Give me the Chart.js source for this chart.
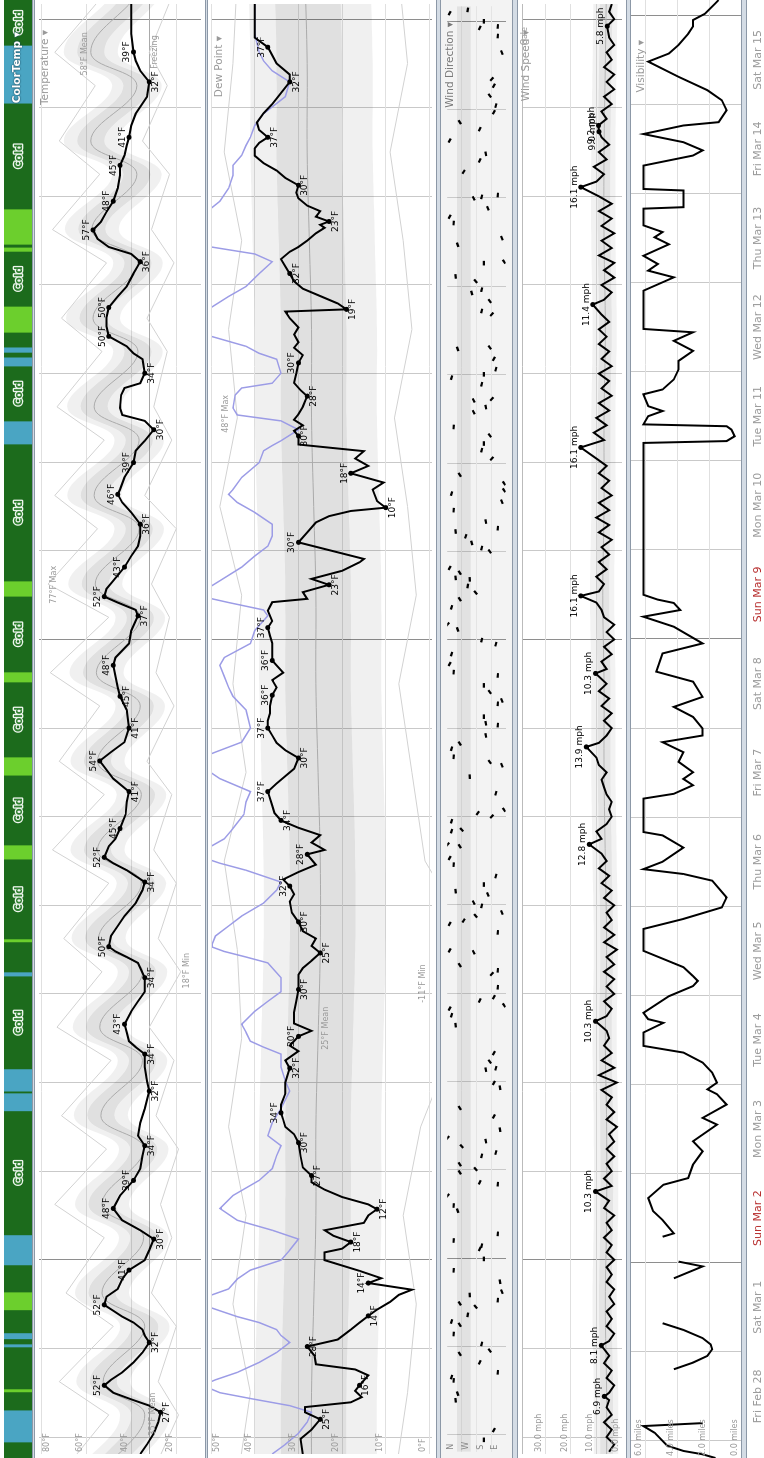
<!DOCTYPE html>
<html>
<head>
<meta charset="utf-8">
<script src="https://cdn.jsdelivr.net/npm/chart.js@4.4.1/dist/chart.umd.min.js"></script>
<style>
  html, body { margin: 0; padding: 0; background: #fff; overflow: hidden; width: 764px; height: 1458px; }
  /* the chart is laid out landscape (time left to right) and turned a quarter to the left */
  #page { position: absolute; left: 0; top: 0; width: 1458px; height: 764px; overflow: hidden;
          transform-origin: 0 0; transform: translate(0, 1458px) rotate(-90deg);
          font-family: "DejaVu Sans", sans-serif; background: #fff; }
  #page canvas { position: absolute; left: 0; }
  .sep { position: absolute; left: 0; width: 1458px; box-sizing: border-box;
         background: #d4dce5; border-top: 1px solid #8c98a7; border-bottom: 1px solid #8c98a7; }
  .title { position: absolute; font-size: 10.5px; color: #999; white-space: nowrap; }
</style>
</head>
<body>
<div id="page">
  <canvas id="cStrip" width="1458" height="28" style="top:4px"></canvas>
  <div class="sep" style="top:32px;height:3px"></div>
  <canvas id="cTemp" width="1458" height="170" style="top:35px"></canvas>
  <div class="sep" style="top:205px;height:3px"></div>
  <canvas id="cDew" width="1458" height="228" style="top:208px"></canvas>
  <div class="sep" style="top:436px;height:5px"></div>
  <canvas id="cDir" width="1458" height="71" style="top:441px;background:#f3f3f3"></canvas>
  <div class="sep" style="top:512px;height:6px"></div>
  <canvas id="cWind" width="1458" height="108" style="top:518px"></canvas>
  <div class="sep" style="top:626px;height:5px"></div>
  <canvas id="cVis" width="1458" height="110" style="top:631px"></canvas>
  <div class="sep" style="top:741px;height:6px"></div>
  <canvas id="cDate" width="1458" height="60" style="top:715px"></canvas>

  <div class="title" style="top:10px;right:32px;color:#fff;font-weight:bold;text-shadow:0 0 2px #17465a,0 0 1px #17465a">ColorTemp ▾</div>
  <div class="title" style="top:38px;right:30px">Temperature ▾</div>
  <div class="title" style="top:212px;right:36px">Dew Point ▾</div>
  <div class="title" style="top:443px;right:22px;color:#777;text-shadow:0 0 2px #fff">Wind Direction ▾</div>
  <div class="title" style="top:519px;right:30px">Wind Speed ▾</div>
  <div class="title" style="top:634px;right:40px">Visibility ▾</div>
</div>

<script>
// hours counted from Fri Feb 28 2014, 00:00
const X_MIN = -4.6;
const X_MAX = 388.1;

const dayLabels = ['Fri Feb 28', 'Sat Mar 1', 'Sun Mar 2', 'Mon Mar 3', 'Tue Mar 4', 'Wed Mar 5', 'Thu Mar 6', 'Fri Mar 7',
    'Sat Mar 8', 'Sun Mar 9', 'Mon Mar 10', 'Tue Mar 11', 'Wed Mar 12', 'Thu Mar 13', 'Fri Mar 14', 'Sat Mar 15'];
const noonTicks = [12, 36, 60, 84, 108, 132, 156, 180, 204, 228, 252, 276, 300, 324, 348, 372];
const dayLines = [0, 24, 48, 72, 96, 120, 144, 168, 192, 216, 240, 264, 288, 312, 336, 360, 384];
const weekLines = [48, 216, 384];

// colour temperature strip: [from, to, class, label]
const colorTempSegments = [
    [-4.6, -0.3, 'cold'], [-0.3, 8.3, 'vcold'], [8.3, 13.2, 'cold'], [13.2, 14.0, 'cool'], [14.0, 25.3, 'cold'],
    [25.3, 26.1, 'vcold'], [26.1, 27.5, 'cold'], [27.5, 29.1, 'vcold'], [29.1, 35.3, 'cold'], [35.3, 40.1, 'cool'],
    [40.1, 47.4, 'cold'], [47.4, 55.5, 'vcold'], [55.5, 88.9, 'cold', 'Cold'], [88.9, 93.7, 'vcold'], [93.7, 94.2, 'cold'],
    [94.2, 100.2, 'vcold'], [100.2, 125.2, 'cold', 'Cold'], [125.2, 126.3, 'vcold'], [126.3, 134.4, 'cold'], [134.4, 135.2, 'cool'],
    [135.2, 156.7, 'cold', 'Cold'], [156.7, 160.5, 'cool'], [160.5, 179.3, 'cold', 'Cold'], [179.3, 184.2, 'cool'],
    [184.2, 204.4, 'cold', 'Cold'], [204.4, 207.1, 'cool'], [207.1, 227.5, 'cold', 'Cold'], [227.5, 231.6, 'cool'],
    [231.6, 268.5, 'cold', 'Cold'], [268.5, 274.7, 'vcold'], [274.7, 289.5, 'cold', 'Cold'], [289.5, 291.9, 'vcold'],
    [291.9, 293.2, 'cold'], [293.2, 294.6, 'vcold'], [294.6, 298.6, 'cold'], [298.6, 305.6, 'cool'],
    [305.6, 320.4, 'cold', 'Cold'], [320.4, 321.5, 'cool'], [321.5, 322.3, 'cold'], [322.3, 331.8, 'cool'],
    [331.8, 360.3, 'cold', 'Cold'], [360.3, 375.9, 'vcold'], [375.9, 388.1, 'cold', 'Cold']
];
const colorTempColors = { cold: '#1c6b1c', cool: '#6ccf2d', vcold: '#4aa5c3' };

// temperature (°F)
const temperature = [
    [-4.6,36],[-2,33],[1,30],[4,28],[6.7,27],[8.5,32],[10.2,40],[12,48],[14,52],[15.5,49],[17.5,44],[20.2,39],[22.9,35],
    [25.6,32],[27.5,34],[29.1,35],[31,39],[32.6,44],[34.2,48],[35.8,52],[38,51],[40.1,46],[42.8,44],[45.2,41],[47.9,34],
    [50.6,32],[53.6,30],[56,36],[58.7,44],[61.9,48],[65.4,45],[69.5,39],[72.7,36],[76.2,35],[78.9,34],[81.6,37],[85.1,36],
    [88.9,34],[93.7,32],[96.4,33],[100.2,34],[103.7,34],[105.6,38],[107.2,41],[109.6,42],[111.8,43],[115.3,40],[118,37],
    [120.6,34],[124.4,34],[128.4,37],[130,42],[131.5,47],[132.8,50],[135.7,49],[138.4,46],[141.1,43],[144.6,38],[148.1,35],
    [150.3,34],[153.5,42],[155.4,48],[157,52],[160,50],[162,47],[164.8,45],[168.6,42.5],[172,42],[174.8,41],[178.3,48],
    [182.3,53],[183.1,54],[185.5,49],[188.2,43],[192,41],[196.9,42],[200.6,45],[203,46],[206,47],[209,48],[211.1,47],
    [214.9,41],[218.4,40],[222.4,37],[224,38],[226,46],[227.6,52],[229.7,51],[231.9,48],[235.6,43],[238.6,40],[241.3,37],
    [244,36],[247.2,36],[250.4,40],[253.1,44],[255.3,46],[256.6,45],[259.9,43],[263.9,39],[267.1,38],[268.5,36],[269.8,34],
    [272.8,30],[275.2,34],[276.8,44],[278.7,45],[282.2,44.5],[284.1,43],[285.4,36],[288.1,34],[291.9,35],[293.5,39],
    [295.4,42],[298.1,50],[300.8,51],[303.2,51],[305.9,50],[308.9,46],[311.6,42],[315.1,39],[318.3,36],[320.4,40],
    [322.3,50],[324.5,55],[326.9,57],[329.1,53.5],[331.8,51],[334.7,48],[338.2,46],[341.7,45],[344.4,45],[347.1,43],
    [349.8,42],[352,41],[355.2,40],[358.4,38],[363,33],[367,32],[370,36],[372.7,38],[375.1,39],[380,40],[388.1,40]
];
// labelled extremes: [hour, °F, a = label above / b = below]
const tempMarks = [
    [6.7,27,'b'],[14,52,'a'],[25.6,32,'b'],[35.8,52,'a'],[45.2,41,'a'],[53.6,30,'b'],[61.9,48,'a'],[69.5,39,'a'],
    [78.9,34,'b'],[93.7,32,'b'],[103.7,34,'b'],[111.8,43,'a'],[124.4,34,'b'],[132.8,50,'a'],[150.3,34,'b'],[157,52,'a'],
    [164.8,45,'a'],[174.8,41,'b'],[183.1,54,'a'],[192,41,'b'],[200.6,45,'b'],[209,48,'a'],[222.4,37,'b'],[227.6,52,'a'],
    [235.6,43,'a'],[247.2,36,'b'],[255.3,46,'a'],[263.9,39,'a'],[272.8,30,'b'],[288.1,34,'b'],[298.1,50,'a'],[305.9,50,'a'],
    [318.3,36,'b'],[326.9,57,'a'],[334.7,48,'a'],[344.4,45,'a'],[352,41,'a'],[367,32,'b'],[375.1,39,'a']
];

// normal bands for temperature, at 15:00 and 06:00 of each day
const normTimes = [-9,6,15,30,39,54,63,78,87,102,111,126,135,150,159,174,183,198,207,222,231,246,255,270,279,294,303,318,327,342,351,366,375,390];
const tempMean = [52,34,52.5,34,53,34.5,53,34.5,53.5,35,54,35,54.5,35.5,55,35.5,55,36,55.5,36,56,36.5,56.5,36.5,56.5,37,57,37,57.5,37.5,58,37.5,58,38];
const tempP25 = [46,28,46.5,28,47,28.5,47,28.5,47.5,29,48,29,48.5,29.5,49,29.5,49,30,49.5,30,50,30.5,50.5,30.5,50.5,31,51,31,51.5,31.5,52,31.5,52,32];
const tempP75 = [58,40,58.5,40,59,40.5,59,40.5,59.5,41,60,41,60.5,41.5,61,41.5,61,42,61.5,42,62,42.5,62.5,42.5,62.5,43,63,43,63.5,43.5,64,43.5,64,44];
const tempP10 = [40,23,40.5,23,41,23.5,41,23.5,41.5,24,42,24,42.5,24.5,43,24.5,43,25,43.5,25,44,25.5,44.5,25.5,44.5,26,45,26,45.5,26.5,46,26.5,46,27];
const tempP90 = [64,45,64.5,45,65,45.5,65,45.5,65.5,46,66,46,66.5,46.5,67,46.5,67,47,67.5,47,68,47.5,68.5,47.5,68.5,48,69,48,69.5,48.5,70,48.5,70,49];
const tempRecordHigh = [70,50,72,48,69,52,74,51,71,49,73,53,70,50,75,52,72,54,76,50,77,55,74,52,73,53,71,51,75,54,72,56,74,53];
const tempRecordLow = [30,19,28,20,31,22,27,19,29,21,32,18,28,20,30,22,33,21,29,23,31,20,34,22,30,24,33,21,31,23,35,24,32,22];

// dew point (°F)
const dewPoint = [
    [-4.6,29],[-0.5,29.5],[2,27],[4.8,25],[6.7,28.5],[8.1,28.5],[9.4,18],[10.8,15.5],[12.5,17],[14,16],[16.7,14],[18.3,17],
    [19.7,26],[22,26.3],[24.5,28],[26.4,21],[29.1,18],[31,16],[32.8,14],[34.5,12],[36.6,9],[38.5,7],[39.9,4],[41.7,14],
    [43,11],[45,16],[47.9,24],[50,24],[51,20],[52.8,18],[54.5,22],[56,24],[58,15],[60,14],[61.7,12],[63,14],[65,20],
    [67,24],[69,27],[70.8,27],[73,29],[76,29.5],[79.7,30],[82,31],[84,33],[86,33.5],[87.8,34],[90,34],[93,33],[96,33],
    [99.9,32],[102,33],[104.5,30],[106,32],[108.5,30],[110,27],[112,31],[115,31],[118,30.5],[121.2,30],[123,30],[125.2,30],
    [127,29],[129,27],[131.1,25],[133,27],[135,26],[137,29],[139.5,30],[142,31.5],[145,32],[147,31],[149.2,32],[151,33.5],
    [153,30],[155,26],[157.8,28],[159,24],[161,27],[163,25],[165,30],[167,34],[169,35.5],[171,36],[174.8,37],[177,35],
    [179,33],[181,31],[183.9,30],[186,33],[188,35],[190,36],[192,37],[194,37],[196,36.5],[198,36.5],[200.9,36],[203,35],
    [205,36],[207,33.5],[209,35],[210.3,36],[212,36],[215,36],[217,36.5],[219.2,37],[221,36],[223.8,37],[226.1,36],
    [227,28],[228.8,29],[230.8,23],[232.4,27],[234.6,20],[236.9,16],[237.8,15],[242.3,30],[245,28],[247.7,26],[249.4,23],
    [250.8,18],[251.7,10],[253.5,12],[256.6,13],[258.5,10.5],[261,18],[263,14],[265,17],[267,15],[268.8,30],[271.1,30],
    [272.5,31],[274,29],[275.5,31],[277,30],[279,29],[281.9,28],[283.5,29.5],[285.5,31],[288,30.5],[290.9,30],[293,29],
    [295,31],[296.5,30],[298.6,31],[300.5,30],[303,32],[304.8,33],[305.4,19],[307,21],[309,25],[311,29],[313,31],
    [315.1,32],[317,33],[319,34],[321,32],[322.3,30],[324,28],[326,26],[327.5,24],[328.3,25],[329.2,23],[330.5,26],
    [332,25],[333.5,28],[335.5,30],[337,30.5],[339,30],[341,33],[343,35],[345,38],[347,40],[349,40],[350.5,39],[352,37],
    [354,39],[356,39.5],[358.5,38],[361,36],[364,34],[367,32],[369,32],[372,35],[376.4,37],[379,40],[383,40],[388.1,40]
];
const dewMarks = [
    [4.8,25,'b'],[14,16,'b'],[24.5,28,'b'],[32.8,14,'b'],[41.7,14,'a'],[52.8,18,'b'],[61.7,12,'b'],[70.8,27,'b'],
    [79.7,30,'b'],[87.8,34,'a'],[99.9,32,'b'],[108.5,30,'a'],[121.2,30,'b'],[131.1,25,'b'],[139.5,30,'b'],[149.2,32,'a'],
    [157.8,28,'a'],[167,34,'b'],[174.8,37,'a'],[183.9,30,'b'],[192,37,'a'],[200.9,36,'a'],[210.3,36,'a'],[219.2,37,'a'],
    [230.8,23,'b'],[242.3,30,'a'],[251.7,10,'b'],[261,18,'a'],[271.1,30,'b'],[281.9,28,'b'],[290.9,30,'a'],[305.4,19,'b'],
    [315.1,32,'b'],[329.2,23,'b'],[339,30,'b'],[352,37,'b'],[367,32,'b'],[376.4,37,'a']
];

// daily normals (noon of each day) for dew point and wind
const dayTimes = [-12,12,36,60,84,108,132,156,180,204,228,252,276,300,324,348,372,396];
const dewMean = [27,27,26.5,26,26,25.5,25,25,25.5,26,26,26.5,27,27,27.5,28,28,28.5];
const dewP25 = [19,19,18.5,18,18,17.5,17,17,17.5,18,18,18.5,19,19,19.5,20,20,20.5];
const dewP75 = [34,34,33.5,33,33,32.5,32,32,32.5,33,33,33.5,34,34,34.5,35,35,35.5];
const dewP10 = [12,12,11.5,11,11,10.5,10,10,10.5,11,11,11.5,12,12,12.5,13,13,13.5];
const dewP90 = [40,40,39.5,39,39,38.5,38,38,38.5,39,39,39.5,40,40,40.5,41,41,41.5];
const dewRecordHigh = [44,41,45,42,46,43,44,47,42,45,43,48,44,46,43,47,45,44];
const dewRecordLow = [8,5,3,6,2,-6,-11,1,4,7,3,5,8,4,6,9,5,7];

// wind direction (degrees) of each observation
const windDir = [
    [-1.35,135],[1.3,73],[9.4,308],[11.2,296],[14.8,320],[15.7,333],[17.0,49],[19.7,160],[22.0,283],[22.9,98],[24.7,148],[27.4,320],
    [29.9,283],[30.8,333],[32.6,234],[34.8,185],[35.7,283],[36.6,49],[38.0,222],[38.9,24],[41.6,36],[44.7,320],[47.8,135],
    [50.5,160],[51.4,148],[52.8,320],[54.6,49],[60.9,296],[62.3,320],[65.0,357],[68.1,49],[68.6,160],[71.3,283],[72.2,185],
    [73.5,283],[75.8,148],[76.7,61],[78.4,271],[79.8,123],[80.7,357],[82.9,36],[86.5,73],[88.8,283],[94.3,36],[95.6,73],
    [99.2,123],[99.6,61],[101.4,98],[103.7,73],[111.3,308],[114.0,333],[115.8,345],[116.7,11],[118.0,160],[118.9,73],
    [121.6,49],[125.2,86],[126.2,49],[127.6,283],[131.1,197],[131.6,345],[136.5,49],[138.8,345],[139.7,259],[141.0,185],
    [141.9,24],[143.7,148],[144.6,197],[146.8,110],[147.7,308],[149.5,135],[151.8,61],[154.9,320],[156.7,345],[159.9,283],
    [160.4,357],[164.0,333],[164.4,271],[166.7,333],[168.0,86],[168.9,172],[169.8,11],[174.3,61],[178.8,222],[181.9,24],
    [182.8,98],[184.2,320],[186.4,333],[187.8,283],[190.0,123],[192.8,49],[193.3,123],[195.1,135],[198.6,49],[199.5,24],
    [201.8,98],[203.6,135],[206.3,49],[207.2,320],[209.4,345],[212.1,333],[214.8,61],[215.9,148],[218.8,296],[220.2,357],
    [224.8,333],[227.0,283],[228.8,185],[230.6,234],[232.4,222],[232.8,308],[234.2,283],[235.5,345],[240.0,98],[240.9,148],
    [242.3,209],[244.1,246],[245.4,308],[246.3,49],[248.1,123],[251.2,320],[253.5,24],[255.7,333],[256.6,11],[258.5,11],
    [260.8,283],[265.2,86],[267.5,148],[269.3,135],[271.5,98],[273.8,320],[277.8,197],[279.2,123],[281.0,197],[281.4,86],
    [285.4,148],[287.2,333],[288.1,135],[289.5,61],[292.3,73],[295.0,296],[295.4,98],[304.4,86],[305.3,148],[308.0,98],
    [310.2,209],[311.1,148],[313.4,185],[314.7,308],[318.3,135],[318.7,11],[323.3,296],[325.1,24],[329.2,320],[330.9,345],
    [333.2,110],[335.9,197],[336.3,148],[336.8,49],[343.1,259],[346.2,160],[348.0,123],[351.6,345],[354.7,160],[356.6,283],
    [359.3,73],[361.1,61],[363.8,98],[366.5,73],[368.3,86],[375.5,24],[380.0,49],[382.2,160],[382.6,49],[384.0,135],
    [386.2,345],[387.1,234]
];
const windDirShadeLow = [215,215,215,215,215,215,215,215,215,215,215,215,215,215,215,215,215,215];
const windDirShadeHigh = [300,300,300,300,300,300,300,300,300,300,300,300,300,300,300,300,300,300];

// wind speed (mph)
const windSpeed = [
    [-4,5],[-2,3],[0,6],[2,4],[4,7],[6,4],[8,6],[10,5],[11,6.9],[12,5],[14,3],[16,6],[18,4],[20,7],[22,5],[24.8,8.1],
    [26,5],[28,3],[30,6],[32,4],[34,6],[36,3],[38,5],[40,3],[42,6],[44,4],[46,6],[48,3],[50,6],[52,4],[54,7],[56,4],
    [58,6],[60,3],[62,7],[64,5],[66.5,10.3],[68,4],[70,7],[72,4],[74,6],[76,3],[78,6],[80,3],[82,5],[84,2],[86,6],[88,3],
    [90,6],[92,4],[94,8],[96,2],[98,9],[100,3],[102,8],[104,4],[106,7],[108,5],[110,6],[112.6,10.3],[114,6],[116,4],
    [118,7],[120,3],[122,6],[124,3],[126,7],[128,3],[130,6],[132,2],[134,7],[136,3],[138,7],[140,4],[142,6],[144,3],
    [146,7],[148,4],[150,8],[152,5],[154,9],[156,6],[158,8],[160.5,12.8],[162,8],[164,10],[166,6],[168,4],[170,5],[172,4],
    [174,6],[176,7],[178,8],[180,6],[182,9],[184,10],[186.9,13.9],[188,9],[190,6],[192,4],[194,7],[196,4],[198,8],[200,5],
    [202,9],[204,6],[206.8,10.3],[208,6],[210,8],[212,4],[214,7],[216,3],[218,6],[220,3],[222,7],[224,8],[226,10],
    [227.8,16.1],[229,9],[231,7],[233,10],[235,6],[237,9],[239,5],[241,8],[243,4],[245,9],[247,5],[249,10],[251,5],
    [253,9],[255,4],[257,8],[259,5],[261,9],[263,6],[265,10],[268,16.1],[270,7],[272,11],[274,6],[276,10],[278,5],[280,9],
    [282,4],[284,8],[286,5],[288,9],[290,4],[292,8],[294,5],[296,9],[298,6],[300,9],[302,5],[304,8],[306.7,11.4],[308,7],
    [310,4],[312,8],[314,3],[316,7],[318,3],[320,9],[322,4],[324,8],[326,3],[328,8],[330,4],[332,9],[334,4],[336,9],
    [338.5,16.1],[340,10],[342,7],[344,11],[346,6],[348,9],[350,5],[352,8],[353.5,9.0],[355.2,9.2],[357,6],[359,8],[361,4],
    [363,7],[365,3],[367,6],[369,3],[371,7],[373,4],[375,6],[377,3],[379,5],[382.1,5.8],[384,3],[386,5],[388.1,4]
];
const windMarks = [[11,6.9],[24.8,8.1],[66.5,10.3],[112.6,10.3],[160.5,12.8],[186.9,13.9],[206.8,10.3],[227.8,16.1],
    [268,16.1],[306.7,11.4],[338.5,16.1],[353.5,9.0],[355.2,9.2],[382.1,5.8]];
const windMean = [6,6,6.5,6,6,6.5,6,6.5,7,7,7.5,7,7,6.5,7,7,6.5,6];
const windP25 = [3.5,3.5,4,3.5,3.5,4,3.5,4,4.5,4.5,5,4.5,4.5,4,4.5,4.5,4,3.5];
const windP75 = [8.5,8.5,9,8.5,8.5,9,8.5,9,9.5,9.5,10,9.5,9.5,9,9.5,9.5,9,8.5];
const windP10 = [1.5,1.5,2,1.5,1.5,2,1.5,2,2.5,2.5,3,2.5,2.5,2,2.5,2.5,2,1.5];
const windP90 = [11,11,11.5,11,11,11.5,11,11.5,12,12,12.5,12,12,11.5,12,12,11.5,11];

// visibility (miles), null = no report
const visibility = [
    [-4.6,1.6],[-3.6,2.4],[-2.7,3.6],[-1.3,4.6],[2.2,5.4],[4.0,6.1],[4.8,2.4],[5.5,null],
    [19.3,4.2],[21.1,3.0],[22.9,2.1],[24.7,1.8],[26,1.9],[27.7,2.4],[29.9,3.6],[31.7,4.9],[33,null],
    [43.8,4.2],[47,2.4],[48.3,3.9],[49,null],
    [55,4.9],[55.9,4.2],[59.5,4.9],[61.9,5.5],[65.4,5.8],[69,4.85],[70.8,3.3],[74.4,3.0],[78,2.4],[80.7,3.0],[85.2,1.5],
    [87,2.4],[90.6,0.9],[93.4,1.5],[94.7,2.1],[96.5,1.5],[99.2,1.8],[101.9,2.4],[104.6,3.6],[106.4,6.1],[110,6.1],
    [112.6,4.85],[113.6,5.8],[115.3,6.1],[119.8,4.5],[122.5,3.0],[123.9,2.7],[125.2,3.0],[127.6,3.6],[132,6.1],[137.9,6.1],
    [140.6,3.6],[143.7,1.2],[146.4,0.9],[150.9,1.8],[152.7,3.6],[154,6.1],[156,4.9],[159.8,3.6],[163.1,4.9],[164,6.1],
    [173,6.1],[174.3,4.2],[176.6,3.0],[178.3,3.6],[180.1,3.0],[182.9,3.9],[185.5,3.6],[188.2,4.9],[190,2.4],[191.9,2.4],
    [195,3.0],[197.7,4.2],[200.4,2.4],[204.5,3.0],[207.2,5.3],[212.1,4.9],[214.8,2.4],[219.3,4.2],[222,6.1],[223.8,3.8],
    [225.7,4.2],[226.6,5.2],[227.9,6.1],[268.8,6.1],[269.3,0.9],[270.6,0.4],[272.4,0.6],[273.3,0.9],[273.8,6.1],[276,5.8],
    [277.4,4.9],[278.7,5.8],[281.9,6.1],[283.2,4.9],[285.9,4.2],[288.6,3.9],[290.9,3.9],[293.6,3.0],[296.3,4.2],[298.6,3.0],
    [299.5,6.1],[309.8,6.1],[313.4,4.2],[315.2,5.8],[317,5.2],[319.2,6.1],[322.3,4.5],[324.2,5.4],[325.6,4.9],[327.4,6.1],
    [331.9,6.1],[332.3,3.6],[336.8,3.6],[337.2,6.1],[343.5,6.1],[346.2,3.0],[347.6,2.4],[349.8,3.6],[352,6.1],[354.3,3.6],
    [355.2,1.4],[358.4,0.9],[361.1,1.2],[363.8,2.1],[367.4,3.9],[371.5,5.8],[373.7,4.5],[376,3.9],[379,3.3],[381,3.0],
    [382.7,3.0],[384.4,2.25],[387.2,1.6],[388.1,1.4]
];

const LABEL_FONT = '9px "DejaVu Sans"';
const AXIS_FONT = '8px "DejaVu Sans"';

function pts(pairs) {
    return pairs.map(p => ({ x: p[0], y: p[1] }));
}
function series(times, values) {
    return times.map((t, i) => ({ x: t, y: values[i] }));
}

// draws little texts at data positions: pos a = above point, b = below, m = centred
function textMarks(groups) {
    return {
        id: 'textMarks',
        afterDatasetsDraw(chart) {
            const { ctx, chartArea } = chart;
            const xs = chart.scales.x, ys = chart.scales.y;
            groups.forEach(g => {
                ctx.save();
                ctx.font = g.font;
                ctx.fillStyle = g.color;
                g.items.forEach(it => {
                    const px = it.x === 'left' ? chartArea.left + 2 : xs.getPixelForValue(it.x);
                    const py = ys.getPixelForValue(it.y);
                    ctx.textAlign = it.x === 'left' ? 'left' : 'center';
                    let pos = it.pos;
                    if (pos === 'a' && py - 11 < chartArea.top) pos = 'b';
                    if (pos === 'a') {
                        ctx.textBaseline = 'bottom';
                        ctx.fillText(it.text, px, py - 2);
                    } else if (pos === 'b') {
                        ctx.textBaseline = 'top';
                        ctx.fillText(it.text, px, py + 2);
                    } else {
                        ctx.textBaseline = 'middle';
                        ctx.fillText(it.text, px, py + (it.dy || 0));
                    }
                });
                ctx.restore();
            });
        }
    };
}

function panelOptions(yMin, yMax, yGrid, gridColor) {
    return {
        responsive: false,
        animation: false,
        devicePixelRatio: 1,
        events: [],
        layout: { padding: 0 },
        plugins: { legend: { display: false }, tooltip: { enabled: false } },
        elements: { point: { radius: 0 }, line: { tension: 0 } },
        scales: {
            x: {
                type: 'linear', min: X_MIN, max: X_MAX,
                afterBuildTicks: s => { s.ticks = dayLines.map(v => ({ value: v })); },
                ticks: { display: false },
                border: { display: false },
                grid: { drawTicks: false, color: c => weekLines.includes(c.tick.value) ? '#8e8e8e' : '#c9c9c9' }
            },
            y: {
                type: 'linear', min: yMin, max: yMax,
                afterBuildTicks: s => { s.ticks = yGrid.map(v => ({ value: v })); },
                ticks: { display: false },
                border: { display: false },
                grid: { drawTicks: false, color: gridColor }
            }
        }
    };
}

function band(times, lo, hi, color, order) {
    return [
        { data: series(times, lo), borderWidth: 0, tension: 0.4, order: order },
        { data: series(times, hi), borderWidth: 0, tension: 0.4, fill: '-1', backgroundColor: color, order: order }
    ];
}

// Colour temperature strip
const coldLabels = {
    id: 'coldLabels',
    afterDatasetsDraw(chart) {
        const { ctx, chartArea } = chart;
        const xs = chart.scales.x;
        ctx.save();
        ctx.font = 'bold 10px "DejaVu Sans"';
        ctx.textAlign = 'center';
        ctx.textBaseline = 'middle';
        ctx.lineJoin = 'round';
        colorTempSegments.forEach(s => {
            if (!s[3]) return;
            const px = (xs.getPixelForValue(s[0]) + xs.getPixelForValue(s[1])) / 2;
            const py = (chartArea.top + chartArea.bottom) / 2 + 1;
            ctx.strokeStyle = '#eef6ee';
            ctx.lineWidth = 2.5;
            ctx.strokeText(s[3], px, py);
            ctx.fillStyle = '#2f7f2f';
            ctx.fillText(s[3], px, py);
        });
        ctx.restore();
    }
};
new Chart(document.getElementById('cStrip'), {
    type: 'bar',
    data: {
        labels: ['ColorTemp'],
        datasets: [{
            data: colorTempSegments.map(s => ({ x: [s[0], s[1]], y: 'ColorTemp' })),
            backgroundColor: colorTempSegments.map(s => colorTempColors[s[2]]),
            borderWidth: 0,
            barPercentage: 1,
            categoryPercentage: 1
        }]
    },
    options: {
        indexAxis: 'y', responsive: false, animation: false, devicePixelRatio: 1, events: [],
        layout: { padding: 0 },
        plugins: { legend: { display: false }, tooltip: { enabled: false } },
        scales: {
            x: { type: 'linear', min: X_MIN, max: X_MAX, display: false },
            y: { display: false }
        }
    },
    plugins: [coldLabels]
});

// Temperature
const tempOpts = panelOptions(9, 81, [20, 32, 40, 60, 80], c => c.tick.value === 32 ? '#a9a9a9' : '#e0e0e0');
new Chart(document.getElementById('cTemp'), {
    type: 'line',
    data: {
        datasets: [
            { data: pts(temperature), borderColor: '#000', borderWidth: 2, order: 1 },
            { type: 'scatter', data: pts(tempMarks), pointRadius: 2.5, pointBackgroundColor: '#000', pointBorderWidth: 0, order: 0 },
            { data: series(normTimes, tempMean), borderColor: '#aaa', borderWidth: 1, tension: 0.4, order: 3 },
            { data: series(normTimes, tempRecordHigh), borderColor: '#d2d2d2', borderWidth: 1, order: 4 },
            { data: series(normTimes, tempRecordLow), borderColor: '#d2d2d2', borderWidth: 1, order: 4 },
            ...band(normTimes, tempP10, tempP90, 'rgba(0,0,0,0.06)', 6),
            ...band(normTimes, tempP25, tempP75, 'rgba(0,0,0,0.07)', 5)
        ]
    },
    options: tempOpts,
    plugins: [textMarks([
        { font: LABEL_FONT, color: '#000', items: tempMarks.map(m => ({ x: m[0], y: m[1], text: m[1] + '°F', pos: m[2] })) },
        { font: AXIS_FONT, color: '#999', items: [
            { x: 'left', y: 20, text: '20°F', pos: 'a' }, { x: 'left', y: 40, text: '40°F', pos: 'a' },
            { x: 'left', y: 60, text: '60°F', pos: 'a' }, { x: 'left', y: 80, text: '80°F', pos: 'a' }] },
        { font: AXIS_FONT, color: '#999', items: [
            { x: 230.8, y: 77, text: '77°F Max', pos: 'b' }, { x: 126.3, y: 18, text: '18°F Min', pos: 'b' },
            { x: 374.6, y: 58, text: '58°F Mean', pos: 'a' }, { x: 6.2, y: 33, text: '35°F Mean', pos: 'b' },
            { x: 375.1, y: 32, text: 'Freezing', pos: 'b' }] }
    ])]
});

// Dew point, with the temperature line behind it
new Chart(document.getElementById('cDew'), {
    type: 'line',
    data: {
        datasets: [
            { data: pts(dewPoint), borderColor: '#000', borderWidth: 2, order: 1 },
            { type: 'scatter', data: pts(dewMarks), pointRadius: 2.5, pointBackgroundColor: '#000', pointBorderWidth: 0, order: 0 },
            { data: pts(temperature), borderColor: '#9c9ce6', borderWidth: 1.5, order: 2 },
            { data: series(dayTimes, dewMean), borderColor: '#aaa', borderWidth: 1, tension: 0.4, order: 3 },
            { data: series(dayTimes, dewRecordHigh), borderColor: '#d2d2d2', borderWidth: 1, order: 4 },
            { data: series(dayTimes, dewRecordLow), borderColor: '#d2d2d2', borderWidth: 1, order: 4 },
            ...band(dayTimes, dewP10, dewP90, 'rgba(0,0,0,0.06)', 6),
            ...band(dayTimes, dewP25, dewP75, 'rgba(0,0,0,0.07)', 5)
        ]
    },
    options: panelOptions(-0.6, 49.8, [0, 10, 20, 30, 40, 50], '#e0e0e0'),
    plugins: [textMarks([
        { font: LABEL_FONT, color: '#000', items: dewMarks.map(m => ({ x: m[0], y: m[1], text: m[1] + '°F', pos: m[2] })) },
        { font: AXIS_FONT, color: '#999', items: [
            { x: 'left', y: 0, text: '0°F', pos: 'a' }, { x: 'left', y: 10, text: '10°F', pos: 'a' },
            { x: 'left', y: 20, text: '20°F', pos: 'a' }, { x: 'left', y: 30, text: '30°F', pos: 'a' },
            { x: 'left', y: 40, text: '40°F', pos: 'a' }, { x: 'left', y: 50, text: '50°F', pos: 'a' }] },
        { font: AXIS_FONT, color: '#999', items: [
            { x: 277.1, y: 48, text: '48°F Max', pos: 'b' }, { x: 122.8, y: 1.4, text: '-11°F Min', pos: 'm' },
            { x: 110.7, y: 25, text: '25°F Mean', pos: 'b' }] }
    ])]
});

// Wind direction
new Chart(document.getElementById('cDir'), {
    type: 'line',
    data: {
        datasets: [
            {
                type: 'scatter', data: pts(windDir), pointStyle: 'line', pointRadius: 2.3, pointBorderWidth: 2.2,
                pointBorderColor: '#000', pointRotation: windDir.map(d => (d[1] % 90) - 45), order: 0
            },
            ...band(dayTimes, windDirShadeLow, windDirShadeHigh, 'rgba(0,0,0,0.07)', 5)
        ]
    },
    options: panelOptions(0, 360, [90, 180, 270], '#e4e4e4'),
    plugins: [textMarks([
        { font: AXIS_FONT, color: '#888', items: [
            { x: 'left', y: 360, text: 'N', pos: 'm', dy: 4 }, { x: 'left', y: 270, text: 'W', pos: 'm', dy: 4 },
            { x: 'left', y: 180, text: 'S', pos: 'm', dy: 4 }, { x: 'left', y: 90, text: 'E', pos: 'm', dy: 4 }] }
    ])]
});

// Wind speed
new Chart(document.getElementById('cWind'), {
    type: 'line',
    data: {
        datasets: [
            { data: pts(windSpeed), borderColor: '#000', borderWidth: 2, order: 1 },
            { type: 'scatter', data: pts(windMarks), pointRadius: 2.5, pointBackgroundColor: '#000', pointBorderWidth: 0, order: 0 },
            { data: series(dayTimes, windMean), borderColor: '#b5b5b5', borderWidth: 1, tension: 0.4, order: 3 },
            ...band(dayTimes, windP10, windP90, 'rgba(0,0,0,0.05)', 6),
            ...band(dayTimes, windP25, windP75, 'rgba(0,0,0,0.06)', 5)
        ]
    },
    options: panelOptions(0, 39, [10, 20, 30, 39], c => c.tick.value === 39 ? '#bbb' : '#e0e0e0'),
    plugins: [textMarks([
        { font: LABEL_FONT, color: '#000', items: windMarks.map(m => ({ x: m[0], y: m[1], text: m[1].toFixed(1) + ' mph', pos: 'a' })) },
        { font: AXIS_FONT, color: '#999', items: [
            { x: 'left', y: 0, text: '0.0 mph', pos: 'a' }, { x: 'left', y: 10, text: '10.0 mph', pos: 'a' },
            { x: 'left', y: 20, text: '20.0 mph', pos: 'a' }, { x: 'left', y: 30, text: '30.0 mph', pos: 'a' },
            { x: 379.4, y: 38, text: 'Gale', pos: 'm' }] }
    ])]
});

// Visibility
new Chart(document.getElementById('cVis'), {
    type: 'line',
    data: {
        datasets: [
            { data: pts(visibility), borderColor: '#000', borderWidth: 2, spanGaps: false }
        ]
    },
    options: panelOptions(0, 6.875, [2, 4, 6], '#e0e0e0'),
    plugins: [textMarks([
        { font: AXIS_FONT, color: '#999', items: [
            { x: 'left', y: 0, text: '0.0 miles', pos: 'a' }, { x: 'left', y: 2, text: '2.0 miles', pos: 'a' },
            { x: 'left', y: 4, text: '4.0 miles', pos: 'a' }, { x: 'left', y: 6, text: '6.0 miles', pos: 'a' }] }
    ])]
});

// Date axis: an empty chart whose x axis sits at the bottom of the page
new Chart(document.getElementById('cDate'), {
    type: 'line',
    data: { datasets: [] },
    options: {
        responsive: false, animation: false, devicePixelRatio: 1, events: [],
        layout: { padding: 0 },
        plugins: { legend: { display: false }, tooltip: { enabled: false } },
        scales: {
            x: {
                type: 'linear', position: 'bottom', min: X_MIN, max: X_MAX,
                afterBuildTicks: s => { s.ticks = noonTicks.map(v => ({ value: v })); },
                afterFit: s => { s.height = 30; },
                grid: { display: false },
                border: { display: false },
                ticks: {
                    autoSkip: false, maxRotation: 0, padding: 0,
                    font: { family: 'DejaVu Sans', size: 11, lineHeight: 1.0 },
                    color: c => dayLabels[c.index].startsWith('Sun') ? '#b83030' : '#9c9c9c',
                    callback: (v, i) => [dayLabels[i], '2014']
                }
            },
            y: { display: false }
        }
    }
});
</script>
</body>
</html>
